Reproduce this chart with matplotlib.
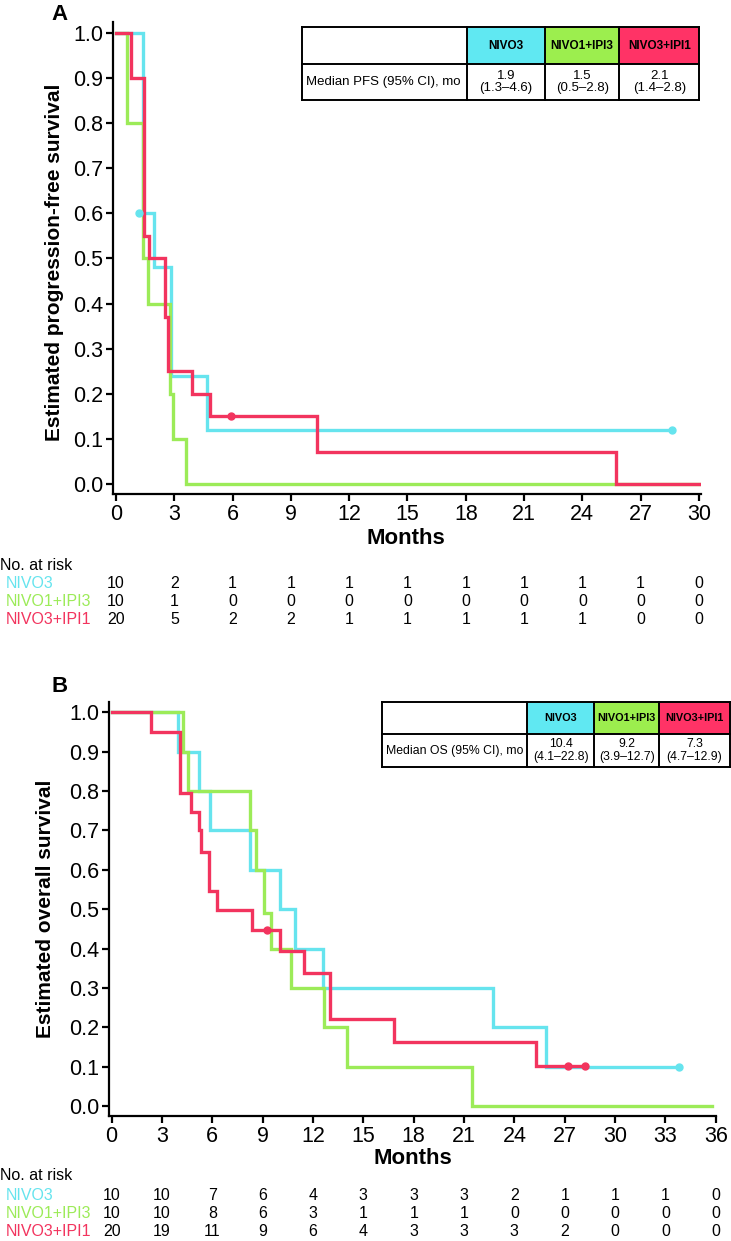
import matplotlib
matplotlib.use("Agg")
import matplotlib.pyplot as plt
from matplotlib.patches import Rectangle
from matplotlib.transforms import blended_transform_factory

plt.rcParams['font.family'] = ['Liberation Sans', 'DejaVu Sans']

W, H = 731, 1241
DPI = 100

groups = ["NIVO3", "NIVO1+IPI3", "NIVO3+IPI1"]
line_colors = ["#66E4EE", "#9CEB58", "#F2345E"]
head_colors = ["#60E8F2", "#9CEE4E", "#FF3366"]

# ---- Panel A: PFS ----
pfs_t_nivo3 = [0, 1.41, 1.97, 2.83, 4.67, 28.6]
pfs_s_nivo3 = [1.0, 0.6, 0.48, 0.24, 0.12, 0.12]
pfs_t_n1i3 = [0, 0.55, 1.39, 1.66, 2.78, 2.92, 3.59, 30.0]
pfs_s_n1i3 = [1.0, 0.8, 0.5, 0.4, 0.2, 0.1, 0.0, 0.0]
pfs_t_n3i1 = [0, 0.76, 1.44, 1.7, 2.52, 2.68, 3.93, 4.84, 10.36, 25.73, 30.0]
pfs_s_n3i1 = [1.0, 0.9, 0.55, 0.5, 0.37, 0.25, 0.2, 0.15, 0.07, 0.0, 0.0]
pfs_cens_nivo3 = ([1.2, 28.6], [0.6, 0.12])
pfs_cens_n1i3 = ([], [])
pfs_cens_n3i1 = ([5.92], [0.15])

pfs_risk_times = [0, 3, 6, 9, 12, 15, 18, 21, 24, 27, 30]
pfs_risk_nivo3 = [10, 2, 1, 1, 1, 1, 1, 1, 1, 1, 0]
pfs_risk_n1i3 = [10, 1, 0, 0, 0, 0, 0, 0, 0, 0, 0]
pfs_risk_n3i1 = [20, 5, 2, 2, 1, 1, 1, 1, 1, 0, 0]

pfs_median = ["1.9", "1.5", "2.1"]
pfs_ci = ["(1.3\u20134.6)", "(0.5\u20132.8)", "(1.4\u20132.8)"]

# ---- Panel B: OS ----
os_t_nivo3 = [0, 3.95, 5.2, 5.83, 8.23, 10.03, 10.9, 12.57, 22.75, 25.87, 33.8]
os_s_nivo3 = [1.0, 0.9, 0.8, 0.7, 0.6, 0.5, 0.4, 0.3, 0.2, 0.1, 0.1]
os_t_n1i3 = [0, 4.25, 4.57, 8.25, 8.59, 9.07, 9.5, 10.7, 12.67, 14.05, 21.5, 35.8]
os_s_n1i3 = [1.0, 0.9, 0.8, 0.7, 0.6, 0.49, 0.4, 0.3, 0.2, 0.1, 0.0, 0.0]
os_t_n3i1 = [0, 2.35, 4.1, 4.71, 5.2, 5.35, 5.78, 6.26, 8.35, 10.05, 11.49, 13.02, 16.83, 25.3, 28.2]
os_s_n3i1 = [1.0, 0.95, 0.795, 0.748, 0.70, 0.646, 0.547, 0.498, 0.447, 0.394, 0.337, 0.222, 0.164, 0.103, 0.103]
os_cens_nivo3 = ([33.8], [0.1])
os_cens_n1i3 = ([], [])
os_cens_n3i1 = ([9.26, 27.2, 28.2], [0.447, 0.103, 0.103])

os_risk_times = [0, 3, 6, 9, 12, 15, 18, 21, 24, 27, 30, 33, 36]
os_risk_nivo3 = [10, 10, 7, 6, 4, 3, 3, 3, 2, 1, 1, 1, 0]
os_risk_n1i3 = [10, 10, 8, 6, 3, 1, 1, 1, 0, 0, 0, 0, 0]
os_risk_n3i1 = [20, 19, 11, 9, 6, 4, 3, 3, 3, 2, 0, 0, 0]

os_median = ["10.4", "9.2", "7.3"]
os_ci = ["(4.1\u201322.8)", "(3.9\u201312.7)", "(4.7\u201312.9)"]

fig = plt.figure(figsize=(W / DPI, H / DPI), dpi=DPI)


def fx(x):
    return x / W


def fy(y):
    return 1 - y / H


def ax_rect(l, r, t, b):
    return [fx(l), fy(b), (r - l) / W, (b - t) / H]


def style_axes(ax, xmax):
    for s in ["top", "right"]:
        ax.spines[s].set_visible(False)
    for s in ["left", "bottom"]:
        ax.spines[s].set_linewidth(1.6)
    ax.tick_params(direction="out", length=5, width=1.6, labelsize=15.5, pad=2)
    ax.set_yticks([i / 10 for i in range(11)])
    ax.set_yticklabels([f"{i/10:.1f}" for i in range(11)])
    ax.set_xticks(list(range(0, xmax + 1, 3)))


def draw_curves(ax, ts, ss, cens):
    for t, s, c, col in zip(ts, ss, cens, line_colors):
        ax.step(t, s, where="post", color=col, lw=2.4, solid_joinstyle="miter", zorder=3)
        if c[0]:
            ax.plot(c[0], c[1], "o", color=col, ms=5, zorder=4)


def draw_table(col_edges, row_edges, label, medians, cis, fs_head, fs_body):
    lw = 1.4
    for j in range(3):
        x0, x1 = col_edges[j + 1], col_edges[j + 2]
        y0, y1 = row_edges[0], row_edges[1]
        fig.add_artist(Rectangle((fx(x0), fy(y1)), (x1 - x0) / W, (y1 - y0) / H,
                                 transform=fig.transFigure, facecolor=head_colors[j],
                                 edgecolor="none", zorder=5))
    for x in col_edges:
        fig.add_artist(plt.Line2D([fx(x), fx(x)], [fy(row_edges[0]), fy(row_edges[2])],
                                  transform=fig.transFigure, color="black", lw=lw, zorder=6))
    for y in row_edges:
        fig.add_artist(plt.Line2D([fx(col_edges[0]), fx(col_edges[-1])], [fy(y), fy(y)],
                                  transform=fig.transFigure, color="black", lw=lw, zorder=6))
    yh = (row_edges[0] + row_edges[1]) / 2
    yb = (row_edges[1] + row_edges[2]) / 2
    for j in range(3):
        xc = (col_edges[j + 1] + col_edges[j + 2]) / 2
        fig.text(fx(xc), fy(yh), groups[j], ha="center", va="center",
                 fontsize=fs_head, fontweight="bold", color="black", zorder=7)
        fig.text(fx(xc), fy(yb), medians[j] + "\n" + cis[j], ha="center", va="center",
                 fontsize=fs_body, linespacing=1.05, zorder=7)
    fig.text(fx(col_edges[0] + 4), fy(yb), label, ha="left", va="center",
             fontsize=fs_body, zorder=7)


def draw_risk(ax, times, rows, y_title, y_rows, fs):
    fig.text(fx(0), fy(y_title), "No. at risk", ha="left", va="center", fontsize=fs)
    trans = blended_transform_factory(ax.transData, fig.transFigure)
    for i, (vals, yy) in enumerate(zip(rows, y_rows)):
        fig.text(fx(6), fy(yy), groups[i], ha="left", va="center", fontsize=fs,
                 color=line_colors[i])
        for t, v in zip(times, vals):
            fig.text(t, fy(yy), str(v), ha="center", va="center", fontsize=fs,
                     transform=trans)


# Panel A axes
axA = fig.add_axes(ax_rect(113.3, 700.5, 22, 494))
axA.set_xlim(-0.14, 30.08)
axA.set_ylim(-0.022, 1.024)
style_axes(axA, 30)
draw_curves(axA, [pfs_t_nivo3, pfs_t_n1i3, pfs_t_n3i1],
            [pfs_s_nivo3, pfs_s_n1i3, pfs_s_n3i1],
            [pfs_cens_nivo3, pfs_cens_n1i3, pfs_cens_n3i1])
fig.text(fx(406), fy(538), "Months", ha="center", va="center", fontsize=16, fontweight="bold")
fig.text(fx(55), fy(262), "Estimated progression-free survival", ha="center", va="center",
         rotation=90, fontsize=15, fontweight="bold")
fig.text(fx(60), fy(15), "A", ha="center", va="center", fontsize=16, fontweight="bold")

draw_table([301.7, 466.7, 545, 619.3, 699.3], [27.3, 64.3, 100],
           "Median PFS (95% CI), mo", pfs_median, pfs_ci, 8.5, 9.5)
draw_risk(axA, pfs_risk_times, [pfs_risk_nivo3, pfs_risk_n1i3, pfs_risk_n3i1],
          565, [584, 602, 620], 11.5)

# Panel B axes
axB = fig.add_axes(ax_rect(109, 716.4, 701.7, 1116))
axB.set_xlim(-0.16, 36.04)
axB.set_ylim(-0.025, 1.027)
style_axes(axB, 36)
draw_curves(axB, [os_t_nivo3, os_t_n1i3, os_t_n3i1],
            [os_s_nivo3, os_s_n1i3, os_s_n3i1],
            [os_cens_nivo3, os_cens_n1i3, os_cens_n3i1])
fig.text(fx(413), fy(1159), "Months", ha="center", va="center", fontsize=16, fontweight="bold")
fig.text(fx(46), fy(909), "Estimated overall survival", ha="center", va="center",
         rotation=90, fontsize=15, fontweight="bold")
fig.text(fx(60), fy(686), "B", ha="center", va="center", fontsize=16, fontweight="bold")

draw_table([381.7, 527.4, 594.2, 659.4, 729.5], [701.7, 734, 767.3],
           "Median OS (95% CI), mo", os_median, os_ci, 7.8, 8.8)
draw_risk(axB, os_risk_times, [os_risk_nivo3, os_risk_n1i3, os_risk_n3i1],
          1175, [1196, 1214, 1232], 11.5)

fig.savefig("out.png", dpi=DPI)
